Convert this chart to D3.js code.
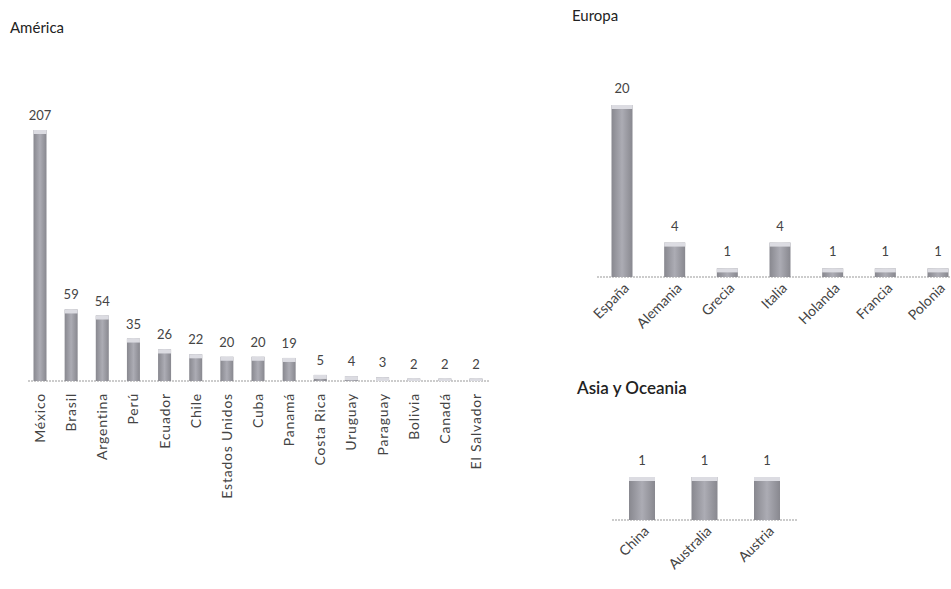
<!DOCTYPE html>
<html><head><meta charset="utf-8">
<script src="https://cdn.jsdelivr.net/npm/d3@7"></script>
<style>
body{margin:0;background:#fff;}
svg{display:block;font-family:Lato,"Open Sans",sans-serif;}
</style></head>
<body>
<svg id="c" width="951" height="589"></svg>
<script>
const americaCats = ["México","Brasil","Argentina","Perú","Ecuador","Chile","Estados Unidos","Cuba","Panamá","Costa Rica","Uruguay","Paraguay","Bolivia","Canadá","El Salvador"];
const americaVals = [207,59,54,35,26,22,20,20,19,5,4,3,2,2,2];
const europaCats = ["España","Alemania","Grecia","Italia","Holanda","Francia","Polonia"];
const europaVals = [20,4,1,4,1,1,1];
const asiaCats = ["China","Australia","Austria"];
const asiaVals = [1,1,1];

const svg = d3.select("#c");
const defs = svg.append("defs");
const gh = defs.append("linearGradient").attr("id","barh").attr("x1",0).attr("y1",0).attr("x2",1).attr("y2",0);
gh.append("stop").attr("offset","0%").attr("stop-color","#88888f");
gh.append("stop").attr("offset","50%").attr("stop-color","#acacb4");
gh.append("stop").attr("offset","100%").attr("stop-color","#88888f");

function panel(o){
  const x = d3.scalePoint().domain(o.cats).range(o.xr);
  const y = d3.scaleLinear().domain([0,o.max]).range([o.base,o.top]);
  const G = svg.append("g");
  G.append("line").attr("x1",o.lx[0]).attr("x2",o.lx[1]).attr("y1",o.base).attr("y2",o.base)
    .attr("stroke","#999").attr("stroke-width",1).attr("stroke-dasharray","2,1");
  const data = o.cats.map((c,i)=>({c,v:o.vals[i]}));
  G.selectAll("rect.b").data(data).join("rect")
    .attr("x",d=>x(d.c)-o.bw/2).attr("width",o.bw)
    .attr("y",d=>y(d.v)).attr("height",d=>o.base-y(d.v))
    .attr("fill","url(#barh)");
  G.selectAll("rect.t").data(data).join("rect")
    .attr("x",d=>x(d.c)-o.bw/2).attr("width",o.bw)
    .attr("y",d=>y(d.v)).attr("height",d=>Math.min(4,o.base-y(d.v)))
    .attr("fill","#dcdce2");
  G.selectAll("text.v").data(data).join("text")
    .attr("x",d=>x(d.c)).attr("y",d=>y(d.v)-o.vOff)
    .attr("text-anchor","middle").attr("font-size",o.vfs).attr("fill","#444")
    .text(d=>d.v);
  G.selectAll("text.l").data(data).join("text")
    .attr("transform",d=>o.rot===-90
        ? `translate(${x(d.c)+5},${o.base+12}) rotate(-90)`
        : `translate(${x(d.c)+8},${o.base+12}) rotate(-45)`)
    .attr("text-anchor","end").attr("font-size",o.lfs).attr("fill","#444")
    .attr("letter-spacing",o.ls||0)
    .text(d=>d.c);
  svg.append("text").attr("x",o.tx).attr("y",o.ty).attr("font-size",o.tfs)
    .attr("font-weight",o.tw).attr("fill","#222").text(o.title);
}

panel({cats:americaCats,vals:americaVals,max:207,xr:[40,476],base:381,top:130,bw:13,lx:[28,490],
  vOff:10,vfs:13,rot:-90,lfs:14,ls:0.8,title:"América",tx:10,ty:33,tfs:15,tw:"normal"});
panel({cats:europaCats,vals:europaVals,max:20,xr:[622,938],base:277,top:105,bw:21,lx:[597,951],
  vOff:12,vfs:13,rot:-45,lfs:14,title:"Europa",tx:572,ty:21,tfs:15,tw:"normal"});
panel({cats:asiaCats,vals:asiaVals,max:1,xr:[642,767],base:520,top:477,bw:26,lx:[612,798],
  vOff:12,vfs:13,rot:-45,lfs:14,title:"Asia y Oceania",tx:577,ty:394,tfs:17,tw:600});
</script>
</body></html>
